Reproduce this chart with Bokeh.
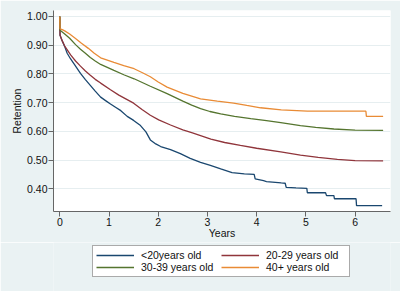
from bokeh.plotting import figure
from bokeh.layouts import column
from bokeh.models import Range1d, FixedTicker, PrintfTickFormatter, Legend, LegendItem
from bokeh.embed import file_html
from bokeh.resources import INLINE

# ---- data (years, retention) ----
t_lt20 = [0, 0.005, 0.05, 0.1, 0.15, 0.22, 0.3, 0.42, 0.52, 0.62, 0.72, 0.83, 0.93, 1.03, 1.14,
          1.24, 1.37, 1.5, 1.64, 1.75, 1.84, 1.95, 2.05, 2.25, 2.45, 2.65, 2.86, 3.06, 3.27, 3.5,
          3.75, 3.95, 3.97, 4.14, 4.2, 4.5, 4.58, 4.6, 4.8, 5.02, 5.03, 5.4, 5.42, 5.57, 5.58,
          6.02, 6.03, 6.55]
s_lt20 = [1.0, 0.935, 0.915, 0.895, 0.872, 0.852, 0.832, 0.802, 0.78, 0.76, 0.74, 0.719, 0.707, 0.695, 0.683,
          0.672, 0.652, 0.638, 0.620, 0.598, 0.570, 0.556, 0.547, 0.536, 0.522, 0.506, 0.492, 0.481, 0.469, 0.456,
          0.452, 0.450, 0.434, 0.428, 0.425, 0.420, 0.419, 0.405, 0.403, 0.401, 0.386, 0.386, 0.376, 0.376, 0.365,
          0.365, 0.341, 0.341]

t_2029 = [0, 0.005, 0.05, 0.1, 0.22, 0.32, 0.42, 0.52, 0.62, 0.72, 0.83, 1.03, 1.2, 1.35, 1.5,
          1.67, 1.84, 2.01, 2.25, 2.5, 2.68, 2.86, 3.07, 3.35, 3.67, 4.0, 4.49, 4.89, 5.25, 5.64,
          6.0, 6.57]
s_2029 = [1.0, 0.935, 0.915, 0.897, 0.866, 0.845, 0.827, 0.81, 0.795, 0.781, 0.768, 0.745, 0.726, 0.712, 0.698,
          0.676, 0.656, 0.640, 0.622, 0.605, 0.595, 0.585, 0.573, 0.561, 0.551, 0.541, 0.528, 0.517, 0.509, 0.502,
          0.498, 0.497]

t_3039 = [0, 0.005, 0.05, 0.1, 0.2, 0.32, 0.42, 0.52, 0.62, 0.72, 0.83, 1.1, 1.3, 1.51, 1.84,
          2.18, 2.5, 2.68, 2.86, 3.05, 3.27, 3.55, 3.88, 4.2, 4.49, 4.89, 5.2, 5.57, 6.0, 6.57]
s_3039 = [1.0, 0.952, 0.946, 0.939, 0.924, 0.902, 0.886, 0.872, 0.857, 0.845, 0.833, 0.812, 0.797, 0.783, 0.757,
          0.731, 0.705, 0.691, 0.679, 0.669, 0.661, 0.652, 0.644, 0.637, 0.630, 0.620, 0.614, 0.608, 0.604, 0.603]

t_40 = [0, 0.005, 0.05, 0.1, 0.2, 0.3, 0.44, 0.58, 0.7, 0.83, 1.1, 1.3, 1.51, 1.68, 1.84,
        2.0, 2.18, 2.5, 2.86, 3.2, 3.53, 3.8, 4.08, 4.5, 5.03, 6.22, 6.23, 6.57]
s_40 = [1.0, 0.957, 0.954, 0.950, 0.939, 0.926, 0.907, 0.889, 0.872, 0.856, 0.840, 0.829, 0.818, 0.804, 0.790,
        0.772, 0.754, 0.732, 0.713, 0.705, 0.698, 0.690, 0.682, 0.675, 0.670, 0.670, 0.652, 0.652]

series_labels = ["<20years old", "20-29 years old", "30-39 years old", "40+ years old"]
series_colors = ["#1a476f", "#90353b", "#55752f", "#e98b35"]
x_ticks = [0, 1, 2, 3, 4, 5, 6]
y_ticks = [0.4, 0.5, 0.6, 0.7, 0.8, 0.9, 1.0]

FONT = "Liberation Sans"
BG = "#eaf2f3"

series = [(t_lt20, s_lt20), (t_2029, s_2029), (t_3039, s_3039), (t_40, s_40)]

p = figure(width=400, height=242, output_backend="svg", toolbar_location=None,
           x_range=Range1d(-0.128, 6.72), y_range=Range1d(0.3206, 1.0209),
           min_border_left=53, min_border_right=10, min_border_top=10, min_border_bottom=31)
p.background_fill_color = "white"
p.border_fill_color = BG
p.outline_line_color = None

for (t, s), c in zip(series, series_colors):
    p.line(t, s, line_color=c, line_width=1.3)

# axes
p.xaxis.ticker = FixedTicker(ticks=x_ticks)
p.yaxis.ticker = FixedTicker(ticks=y_ticks)
p.yaxis.formatter = PrintfTickFormatter(format="%.2f")
p.xaxis.axis_label = "Years"
p.yaxis.axis_label = "Retention"
for ax in (p.xaxis, p.yaxis):
    ax.axis_line_color = "#666666"
    ax.major_tick_line_color = "#666666"
    ax.major_tick_out = 5
    ax.major_tick_in = 0
    ax.minor_tick_line_color = None
    ax.major_label_text_font = FONT
    ax.major_label_text_font_size = "10.5px"
    ax.major_label_text_color = "#111111"
    ax.axis_label_text_font = FONT
    ax.axis_label_text_font_size = "10.5px"
    ax.axis_label_text_font_style = "normal"
    ax.axis_label_text_color = "#111111"
p.xaxis.major_label_standoff = 1
p.xaxis.axis_label_standoff = -2
p.yaxis.major_label_standoff = 1
p.yaxis.axis_label_standoff = 1
p.yaxis.major_label_orientation = "horizontal"

p.xgrid.grid_line_color = None
p.ygrid.grid_line_color = "#e6eef0"
p.ygrid.grid_line_width = 1

# legend strip below the chart (series drawn off-range, only used as legend keys)
lg = figure(width=400, height=49, output_backend="svg", toolbar_location=None,
            x_range=Range1d(-0.128, 6.72), y_range=Range1d(5, 6),
            x_axis_type=None, y_axis_type=None,
            min_border_left=53, min_border_right=10, min_border_top=0, min_border_bottom=0)
lg.background_fill_color = BG
lg.border_fill_color = BG
lg.outline_line_color = None
lg.xgrid.grid_line_color = None
lg.ygrid.grid_line_color = None
key_renderers = [lg.line(t, s, line_color=c, line_width=1.3) for (t, s), c in zip(series, series_colors)]

legend = Legend(items=[LegendItem(label=l, renderers=[r]) for l, r in zip(series_labels, key_renderers)],
                location=(39, 14), orientation="horizontal", ncols=2,
                label_text_font=FONT, label_text_font_size="10.5px", label_text_color="#111111",
                glyph_width=38, glyph_height=12, label_height=12, label_width=80,
                label_standoff=7, padding=3, spacing=0, margin=0,
                border_line_color="#555555", border_line_width=1,
                background_fill_color="white", background_fill_alpha=1.0)
lg.add_layout(legend, "center")

layout = column(p, lg, spacing=0)
open("out.html", "w").write(file_html(layout, INLINE))
